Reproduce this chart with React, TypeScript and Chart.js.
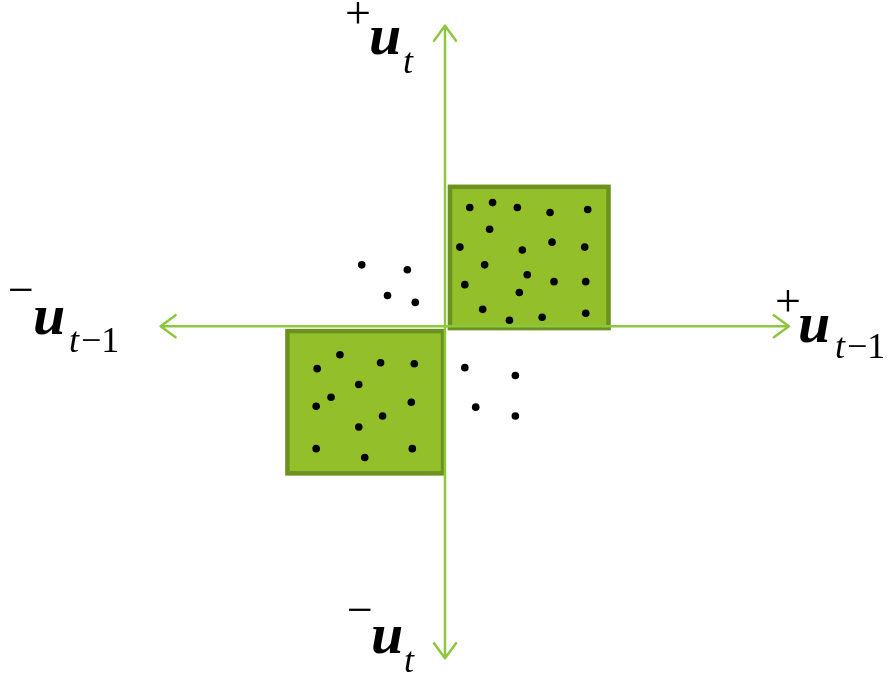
import { useEffect, useRef } from "react";
import { Chart, registerables } from "chart.js";
Chart.register(...registerables);

// Points inside the upper-right box (quadrant +,+)
const upperRightX = [25, 48, 73, 106, 144, 45, 15, 78, 108, 141, 40, 83, 20, 110, 142, 75, 38, 65, 98, 142];
const upperRightY = [120, 125, 120, 115, 118, 98, 80, 77, 85, 80, 62, 52, 42, 45, 45, 34, 17, 6, 9, 13];
// Points inside the lower-left box (quadrant -,-)
const lowerLeftX = [-106, -129, -65, -31, -87, -115, -130, -34, -63, -87, -130, -33, -81];
const lowerLeftY = [-29, -43, -37, -38, -59, -72, -81, -77, -91, -102, -124, -124, -133];
// Off-box points
const upperLeftX = [-84, -38, -58, -30];
const upperLeftY = [62, 57, 31, 24];
const lowerRightX = [20, 71, 31, 71];
const lowerRightY = [-42, -50, -82, -91];

// Boxes [xmin, xmax], [ymin, ymax]
const boxUpperX = [5, 165];
const boxUpperY = [-2, 141];
const boxLowerX = [-159, -2];
const boxLowerY = [-149, -5];

// Axis extents
const axisXRange = [-287, 347];
const axisYRange = [-336, 304];

const xLimits = [-445, 445];
const yLimits = [-349, 326];

const toPts = (xs: number[], ys: number[]) => xs.map((x, i) => ({ x, y: ys[i] }));

const AXIS_COLOR = "#8dc63f";
const BOX_FILL = "#93c02a";
const BOX_BORDER = "#6b921f";

const diagramPlugin = {
  id: "diagram",
  beforeDatasetsDraw(chart: any) {
    const { ctx, scales } = chart;
    const sx = scales.x, sy = scales.y;
    const drawBox = (bx: number[], by: number[]) => {
      const x0 = sx.getPixelForValue(bx[0]);
      const x1 = sx.getPixelForValue(bx[1]);
      const y0 = sy.getPixelForValue(by[1]);
      const y1 = sy.getPixelForValue(by[0]);
      ctx.save();
      ctx.fillStyle = BOX_FILL;
      ctx.fillRect(x0, y0, x1 - x0, y1 - y0);
      ctx.strokeStyle = BOX_BORDER;
      ctx.lineWidth = 4.5;
      ctx.strokeRect(x0, y0, x1 - x0, y1 - y0);
      ctx.restore();
    };
    drawBox(boxUpperX, boxUpperY);
    drawBox(boxLowerX, boxLowerY);

    // axes with open arrowheads
    const ox = sx.getPixelForValue(0);
    const oy = sy.getPixelForValue(0);
    const xl = sx.getPixelForValue(axisXRange[0]);
    const xr = sx.getPixelForValue(axisXRange[1]);
    const yt = sy.getPixelForValue(axisYRange[1]);
    const yb = sy.getPixelForValue(axisYRange[0]);
    ctx.save();
    ctx.strokeStyle = AXIS_COLOR;
    ctx.lineWidth = 2.5;
    ctx.lineCap = "round";
    ctx.lineJoin = "round";
    const L = 15, W = 11;
    ctx.beginPath();
    ctx.moveTo(xl, oy); ctx.lineTo(xr, oy);
    ctx.moveTo(ox, yt); ctx.lineTo(ox, yb);
    ctx.moveTo(xr - L, oy - W); ctx.lineTo(xr, oy); ctx.lineTo(xr - L, oy + W);
    ctx.moveTo(xl + L, oy - W); ctx.lineTo(xl, oy); ctx.lineTo(xl + L, oy + W);
    ctx.moveTo(ox - W, yt + L); ctx.lineTo(ox, yt); ctx.lineTo(ox + W, yt + L);
    ctx.moveTo(ox - W, yb - L); ctx.lineTo(ox, yb); ctx.lineTo(ox + W, yb - L);
    ctx.stroke();
    ctx.restore();
  },
  afterDraw(chart: any) {
    const { ctx, scales } = chart;
    const ox = scales.x.getPixelForValue(0);
    const oy = scales.y.getPixelForValue(0);
    const F = "'Liberation Serif', 'Times New Roman', serif";
    const fU = `bold italic 58px ${F}`;
    const fT = `italic 36px ${F}`;
    const fN = `36px ${F}`;
    const fS = `46px ${F}`;
    ctx.save();
    ctx.fillStyle = "#000";
    ctx.textBaseline = "alphabetic";
    ctx.textAlign = "left";
    const sign = (s: string, cx: number, cy: number) => {
      ctx.font = fS;
      ctx.textAlign = "center";
      ctx.textBaseline = "middle";
      ctx.fillText(s, cx, cy);
      ctx.textAlign = "left";
      ctx.textBaseline = "alphabetic";
    };
    const u = (x: number, y: number) => { ctx.font = fU; ctx.fillText("u", x, y); };
    const sub = (x: number, y: number, lag: boolean) => {
      ctx.font = fT;
      ctx.fillText("t", x, y);
      if (lag) {
        const w = ctx.measureText("t").width;
        ctx.font = fN;
        ctx.fillText("\u22121", x + w + 2, y);
      }
    };
    // top: +u_t
    sign("+", ox - 87, oy - 310);
    u(ox - 76, oy - 272);
    sub(ox - 42, oy - 253, false);
    // left: -u_{t-1}
    sign("\u2212", ox - 424, oy - 33);
    u(ox - 412, oy + 8);
    sub(ox - 376, oy + 26, true);
    // right: +u_{t-1}
    sign("+", ox + 343, oy - 22);
    u(ox + 353, oy + 16);
    sub(ox + 390, oy + 32, true);
    // bottom: -u_t
    sign("\u2212", ox - 85, oy + 287);
    u(ox - 74, oy + 327);
    sub(ox - 41, oy + 346, false);
    ctx.restore();
  },
};

export default function App() {
  const ref = useRef<HTMLCanvasElement>(null);
  useEffect(() => {
    if (!ref.current) return;
    const dot = { backgroundColor: "#000", borderColor: "#000", pointRadius: 3.8, pointBorderWidth: 0 };
    const chart = new Chart(ref.current, {
      type: "scatter",
      data: {
        datasets: [
          { label: "upper right", data: toPts(upperRightX, upperRightY), ...dot },
          { label: "lower left", data: toPts(lowerLeftX, lowerLeftY), ...dot },
          { label: "upper left", data: toPts(upperLeftX, upperLeftY), ...dot },
          { label: "lower right", data: toPts(lowerRightX, lowerRightY), ...dot },
        ],
      },
      options: {
        responsive: false,
        animation: false,
        events: [],
        layout: { padding: 0 },
        plugins: { legend: { display: false }, tooltip: { enabled: false } },
        scales: {
          x: { type: "linear", min: xLimits[0], max: xLimits[1], display: false },
          y: { type: "linear", min: yLimits[0], max: yLimits[1], display: false },
        },
      },
      plugins: [diagramPlugin],
    });
    return () => chart.destroy();
  }, []);
  return (
    <div style={{ position: "absolute", left: 0, top: 0, width: 890, height: 675, background: "#fff" }}>
      <canvas ref={ref} width={890} height={675} />
    </div>
  );
}
